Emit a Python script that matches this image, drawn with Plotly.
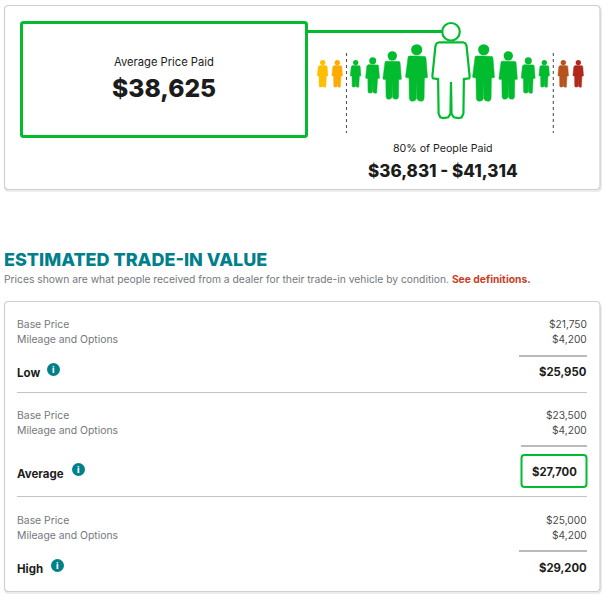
import plotly.graph_objects as go

# values
average_label = "Average Price Paid"
average_price = "$38,625"
range_label = "80% of People Paid"
range_price = "$36,831 - $41,314"
section_title = "ESTIMATED TRADE-IN VALUE"
section_note = "Prices shown are what people received from a dealer for their trade-in vehicle by condition. "
section_link = "See definitions."
conditions = ["Low", "Average", "High"]
base_prices = ["$21,750", "$23,500", "$25,000"]
mileage_options = ["$4,200", "$4,200", "$4,200"]
totals = ["$25,950", "$27,700", "$29,200"]

W, H = 605, 596
GREEN = "#03bb2e"
TEAL = "#00808a"
INK = "#1c1c1c"
GREY = "#74787d"
BORDER = "#cfcfcf"
BODY_FONT = "Inter"

# layout of the price rows
row_base_y = [324, 415, 520]
row_mile_y = [339, 430, 535]
row_rule_y = [356, 446, 551]
row_rule_x0 = [519, 521, 519]
row_total_y = [372, 472, 568]
row_label_y = [372.5, 473.5, 568.5]
row_info_x = [53.5, 78.5, 57.5]
row_info_y = [369.5, 469.5, 565.5]
row_sep_y = [392.5, 496.5]

# people: centre x, head top y, height, colour
people_x = [322.7, 337.3, 355.7, 372.7, 392.3, 416.7, 483.7, 508.3, 528.3, 544.3, 563.3, 578.3]
people_top = [60, 60, 60, 57.3, 51.3, 44.3, 44.3, 51.3, 57.3, 60, 60, 60]
people_h = [27.3, 27.3, 27.3, 36, 48, 57, 57, 48, 36, 27.3, 27.3, 27.3]
people_col = ["#fdbf00", "#fdab00"] + [GREEN] * 8 + ["#b5541c", "#b0281c"]

# right half of the figure, in units of its height, from the head top down
half_body = [
    (0, 0.205), (0.125, 0.205), (0.150, 0.215), (0.163, 0.245),
    (0.195, 0.56), (0.190, 0.583), (0.135, 0.59), (0.130, 0.95),
    (0.112, 0.99), (0.08, 1.0), (0.03, 0.99), (0.006, 0.955), (0, 0.62),
]


def body_xy(cx, top, h):
    right = [(cx + u * h, top + v * h) for u, v in half_body]
    left = [(cx - u * h, top + v * h) for u, v in reversed(half_body)]
    pts = right + left
    return [p[0] for p in pts], [p[1] for p in pts]


def round_rect(x0, y0, x1, y1, r):
    return (
        f"M {x0 + r} {y0} L {x1 - r} {y0} Q {x1} {y0} {x1} {y0 + r} "
        f"L {x1} {y1 - r} Q {x1} {y1} {x1 - r} {y1} "
        f"L {x0 + r} {y1} Q {x0} {y1} {x0} {y1 - r} "
        f"L {x0} {y0 + r} Q {x0} {y0} {x0 + r} {y0} Z"
    )


fig = go.Figure()
shapes = []
notes = []


def add_box(x0, y0, x1, y1, r, color, width, fill="rgba(0,0,0,0)"):
    shapes.append(dict(type="path", xref="x", yref="y", path=round_rect(x0, y0, x1, y1, r),
                       line=dict(color=color, width=width), fillcolor=fill, layer="below"))


def add_line(x0, y0, x1, y1, color, width, dash="solid"):
    fig.add_trace(go.Scatter(x=[x0, x1], y=[y0, y1], mode="lines", hoverinfo="skip",
                             line=dict(color=color, width=width, dash=dash)))


def add_text(x, y, text, size, color=INK, anchor="left", weight=400, family=BODY_FONT):
    notes.append(dict(x=x, y=y, xref="x", yref="y", text=text, showarrow=False,
                      xanchor=anchor, yanchor="middle", borderpad=0,
                      font=dict(family=family, size=size, color=color, weight=weight)))


# cards, with a soft edge under each
add_box(5, 7, 601, 191, 4, "#e6e6e6", 1.5)
add_box(4.5, 5.5, 600, 189.5, 4, BORDER, 1.2, "white")
add_box(5, 304, 601, 593, 4, "#e6e6e6", 1.5)
add_box(4.5, 301.5, 600, 591.5, 4, BORDER, 1.2, "white")

# average box and its link to the big figure
add_box(21.5, 22.5, 306.5, 136.5, 2, GREEN, 3)
add_line(307, 31.5, 442, 31.5, GREEN, 3)
add_text(164, 62, average_label, 11.2, anchor="center")
add_text(164, 88, average_price, 24.6, anchor="center", weight=800)

# range markers
for dash_x in [346.5, 553.3]:
    add_line(dash_x, 53, dash_x, 133, "#555555", 1.1, "dot")

# small people
for cx, top, h, col in zip(people_x, people_top, people_h, people_col):
    bx, by = body_xy(cx, top, h)
    fig.add_trace(go.Scatter(x=bx, y=by, mode="lines", fill="toself", fillcolor=col, hoverinfo="skip",
                             line=dict(color=col, width=0.5)))
    fig.add_trace(go.Scatter(x=[cx], y=[top + 0.095 * h], mode="markers", hoverinfo="skip",
                             marker=dict(size=0.195 * h, color=col, line=dict(width=0))))

# the big outlined person
big_x, big_top, big_h = 451, 22.7, 95.5
bx, by = body_xy(big_x, big_top, big_h)
fig.add_trace(go.Scatter(x=bx, y=by, mode="lines", fill="toself", fillcolor="white", hoverinfo="skip",
                         line=dict(color=GREEN, width=2.2)))
fig.add_trace(go.Scatter(x=[big_x], y=[big_top + 0.095 * big_h], mode="markers", hoverinfo="skip",
                         marker=dict(size=17.5, color="white", line=dict(color=GREEN, width=2.2))))

add_text(443, 148, range_label, 10.65, anchor="center")
add_text(443, 170.5, range_price, 17, anchor="center", weight=800)

# section heading
add_text(3, 259, section_title, 18, color=TEAL, weight=800)
add_text(3, 279, section_note + f'<b><span style="color:#c8401f">{section_link}</span></b>', 10.3, color=GREY)

# price rows
for i, cond in enumerate(conditions):
    add_text(16, row_base_y[i], "Base Price", 10.4, color=GREY)
    add_text(16, row_mile_y[i], "Mileage and Options", 10.4, color=GREY)
    add_text(16, row_label_y[i], cond, 11.5, weight=700)
    add_text(588, row_base_y[i], base_prices[i], 10.2, color="#4a4a4a", anchor="right")
    add_text(588, row_mile_y[i], mileage_options[i], 10.2, color="#4a4a4a", anchor="right")
    add_line(row_rule_x0[i], row_rule_y[i], 587, row_rule_y[i], "#777777", 1)
    if cond == "Average":
        add_text(554, row_total_y[i], totals[i], 11.3, anchor="center", weight=700)
    else:
        add_text(588, row_total_y[i], totals[i], 11.3, anchor="right", weight=700)
    fig.add_trace(go.Scatter(x=[row_info_x[i]], y=[row_info_y[i]], mode="markers", hoverinfo="skip",
                             marker=dict(size=13, color=TEAL, line=dict(width=0))))
    add_text(row_info_x[i], row_info_y[i], "i", 9, color="white", anchor="center", weight=800)

for sep_y in row_sep_y:
    add_line(17, sep_y, 587, sep_y, "#c4c4c4", 1)

add_box(521.5, 455, 586.5, 487, 3, GREEN, 2)

fig.update_layout(
    width=W, height=H,
    margin=dict(l=0, r=0, t=0, b=0),
    paper_bgcolor="white", plot_bgcolor="white",
    showlegend=False,
    xaxis=dict(range=[0, W], visible=False, fixedrange=True),
    yaxis=dict(range=[H, 0], visible=False, fixedrange=True),
    shapes=shapes, annotations=notes,
)

fig.write_html("out.html", config=dict(displayModeBar=False),
               post_script="document.body.style.margin='0';")
